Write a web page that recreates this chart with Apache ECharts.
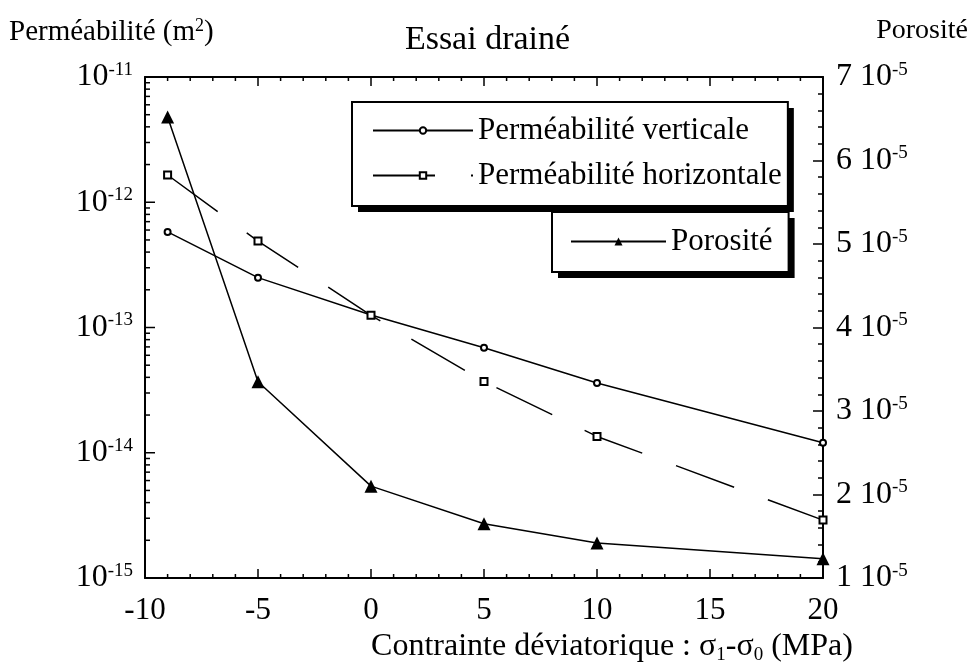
<!DOCTYPE html>
<html>
<head>
<meta charset="utf-8">
<title>Essai drainé</title>
<script src="https://cdn.jsdelivr.net/npm/echarts@6/dist/echarts.min.js"></script>
<style>
    html, body { margin: 0; padding: 0; background: #fff; }
    #main { width: 975px; height: 670px; }
</style>
</head>
<body>
<div id="main"></div>
<script>
// 数据
var contrainte = [-9, -5, 0, 5, 10, 20];
var permVerticale = [5.8e-13, 2.5e-13, 1.26e-13, 6.9e-14, 3.6e-14, 1.2e-14];
var permHorizontale = [1.65e-12, 4.9e-13, 1.25e-13, 3.7e-14, 1.35e-14, 2.9e-15];
var porosite = [6.52e-5, 3.35e-5, 2.1e-5, 1.65e-5, 1.42e-5, 1.23e-5];

// graduations
var ticksX = [-10, -5, 0, 5, 10, 15, 20];
var ticksPerm = [1e-15, 1e-14, 1e-13, 1e-12, 1e-11];
var ticksPoro = [1e-5, 2e-5, 3e-5, 4e-5, 5e-5, 6e-5, 7e-5];

var police = 'Liberation Serif';

// graduations X : grandes (pas 5) et petites (pas 1) -> [valeur, longueur]
var gradX = [];
for (var x = ticksX[0]; x <= ticksX[ticksX.length - 1]; x++) {
    gradX.push([x, ticksX.indexOf(x) >= 0 ? 9 : 4]);
}
// graduations log : décades et 2..9 x 10^n -> [longueur, valeur]
var gradY = [];
for (var d = 0; d < ticksPerm.length; d++) {
    gradY.push([10, ticksPerm[d]]);
    if (d < ticksPerm.length - 1) {
        for (var k = 2; k <= 9; k++) {
            gradY.push([5, k * ticksPerm[d]]);
        }
    }
}

function paires(xs, ys) {
    return xs.map(function (x, i) { return [x, ys[i]]; });
}

function trait() {
    return { color: '#000', width: 1.5 };
}

function sup() {
    return { fontFamily: police, fontSize: 19, color: '#000', verticalAlign: 'bottom', padding: [0, 0, 14, 0] };
}

function segment(x1, y1, x2, y2) {
    return { type: 'line', shape: { x1: x1, y1: y1, x2: x2, y2: y2 }, style: { stroke: '#000', lineWidth: 1.5 } };
}

// petits traits vers l'intérieur, en bas et en haut
function dessinGradX(params, api) {
    var v = api.value(0), l = api.value(1);
    var bas = api.coord([v, 1e-15]);
    var haut = api.coord([v, 1e-11]);
    return {
        type: 'group',
        children: [
            segment(bas[0], bas[1], bas[0], bas[1] - l),
            segment(haut[0], haut[1], haut[0], haut[1] + l)
        ]
    };
}

// petits traits vers l'intérieur, à gauche
function dessinGradY(params, api) {
    var l = api.value(0), v = api.value(1);
    var p = api.coord([-10, v]);
    return segment(p[0], p[1], p[0] + l, p[1]);
}

function axeX(pos) {
    return {
        type: 'value',
        position: pos,
        min: -10,
        max: 20,
        interval: 5,
        axisLine: { lineStyle: { color: '#000', width: 2 } },
        axisTick: { show: false },
        axisLabel: { show: false },
        splitLine: { show: false }
    };
}

// légende : un cadre blanc avec ombre noire dessous, puis le cadre bordé dessus
function legende(noms, x, y, pad, largeur, hauteur, dessous) {
    var l = {
        data: noms,
        orient: 'vertical',
        left: x,
        top: y,
        padding: pad,
        itemGap: 14,
        itemWidth: largeur,
        itemHeight: hauteur,
        selectedMode: false,
        textStyle: { fontFamily: police, fontSize: 31, color: '#000' },
        backgroundColor: '#fff'
    };
    if (dessous) {
        l.textStyle.color = 'rgba(0,0,0,0)';
        l.itemStyle = { opacity: 0 };
        l.lineStyle = { opacity: 0 };
        l.borderWidth = 0;
        l.shadowColor = '#000';
        l.shadowBlur = 0;
        l.shadowOffsetX = 6;
        l.shadowOffsetY = 6;
    } else {
        l.borderColor = '#000';
        l.borderWidth = 2;
    }
    return l;
}

var axeBas = axeX('bottom');
axeBas.axisLabel = { show: true, fontFamily: police, fontSize: 31, color: '#000', margin: 17 };
axeBas.name = 'Contrainte déviatorique : σ{sub|1}-σ{sub|0} (MPa)';
axeBas.nameLocation = 'middle';
axeBas.nameGap = 50;
axeBas.nameTextStyle = {
    fontFamily: police, fontSize: 32, color: '#000',
    padding: [0, 0, 0, 256],
    rich: { sub: { fontFamily: police, fontSize: 19, color: '#000', verticalAlign: 'top', padding: [16, 0, 0, 0] } }
};

// axe X caché, sans zéro : les axes Y s'y rattachent et restent sur les bords
var axeCache = { type: 'value', show: false, min: 1, max: 2 };

var nomsPerm = ['Perméabilité verticale', 'Perméabilité horizontale'];
var nomsPoro = ['Porosité'];

var dom = document.getElementById('main');
var myChart = echarts.init(dom);

var option = {
    animation: false,
    backgroundColor: '#fff',
    textStyle: { fontFamily: police, color: '#000' },
    title: [
        {
            text: 'Essai drainé',
            left: 'center',
            top: 18,
            textStyle: { fontFamily: police, fontSize: 34, fontWeight: 'normal', color: '#000' }
        },
        {
            text: 'Perméabilité (m{sup|2})',
            left: 4,
            top: 12,
            textStyle: {
                fontFamily: police, fontSize: 29, fontWeight: 'normal', color: '#000',
                rich: { sup: { fontFamily: police, fontSize: 18, color: '#000', verticalAlign: 'bottom', padding: [0, 0, 12, 0] } }
            }
        },
        {
            text: 'Porosité',
            right: 2,
            top: 12,
            textStyle: { fontFamily: police, fontSize: 28, fontWeight: 'normal', color: '#000' }
        }
    ],
    grid: { left: 145, right: 152, top: 77, bottom: 92, containLabel: false },
    legend: [
        legende(nomsPerm, 352, 102, [13, 6, 15, 20], 100, 8, true),
        legende(nomsPoro, 552, 212, [14, 16, 15, 18], 95, 10, true),
        legende(nomsPerm, 352, 102, [13, 6, 15, 20], 100, 8, false),
        legende(nomsPoro, 552, 212, [14, 16, 15, 18], 95, 10, false)
    ],
    xAxis: [
        axeBas,
        axeX('top'),
        axeCache
    ],
    yAxis: [
        {
            type: 'log',
            logBase: 10,
            min: 1e-15,
            max: 1e-11,
            position: 'left',
            axisLine: { onZeroAxisIndex: 2, lineStyle: { color: '#000', width: 2 } },
            axisTick: { show: false },
            axisLabel: {
                margin: 12,
                fontFamily: police,
                fontSize: 32,
                color: '#000',
                formatter: function (v) {
                    return '10{sup|' + Math.round(Math.log10(v)) + '}';
                },
                rich: { sup: sup() }
            },
            splitLine: { show: false }
        },
        {
            type: 'value',
            min: 1e-5,
            max: 7e-5,
            interval: 1e-5,
            position: 'right',
            axisLine: { show: true, onZeroAxisIndex: 2, lineStyle: { color: '#000', width: 2 } },
            axisTick: { show: true, inside: true, length: 10, lineStyle: trait() },
            minorTick: { show: true, splitNumber: 5, length: 5, lineStyle: trait() },
            axisLabel: {
                show: true,
                margin: 13,
                fontFamily: police,
                fontSize: 32,
                color: '#000',
                formatter: function (v) {
                    return Math.round(v * 1e5) + ' 10{sup|-5}';
                },
                rich: { sup: sup() }
            },
            splitLine: { show: false }
        }
    ],
    series: [
        {
            name: 'Perméabilité verticale',
            type: 'line',
            xAxisIndex: 0,
            yAxisIndex: 0,
            data: paires(contrainte, permVerticale),
            symbol: 'emptyCircle',
            symbolSize: 6,
            lineStyle: trait(),
            itemStyle: { color: '#000', borderColor: '#000', borderWidth: 1.5 }
        },
        {
            name: 'Perméabilité horizontale',
            type: 'line',
            xAxisIndex: 0,
            yAxisIndex: 0,
            data: paires(contrainte, permHorizontale),
            symbol: 'emptyRect',
            symbolSize: 7,
            lineStyle: { color: '#000', width: 1.5, type: [62, 36] },
            itemStyle: { color: '#000', borderColor: '#000', borderWidth: 1.5 }
        },
        {
            name: 'Porosité',
            type: 'line',
            xAxisIndex: 0,
            yAxisIndex: 1,
            data: paires(contrainte, porosite),
            symbol: 'triangle',
            symbolSize: 13,
            lineStyle: trait(),
            itemStyle: { color: '#000' }
        },
        {
            type: 'custom',
            xAxisIndex: 0,
            yAxisIndex: 0,
            silent: true,
            clip: false,
            z: 3,
            encode: { x: 0, y: -1 },
            renderItem: dessinGradX,
            data: gradX
        },
        {
            type: 'custom',
            xAxisIndex: 0,
            yAxisIndex: 0,
            silent: true,
            clip: false,
            z: 3,
            encode: { x: -1, y: 1 },
            renderItem: dessinGradY,
            data: gradY
        }
    ]
};

myChart.setOption(option);
</script>
</body>
</html>
